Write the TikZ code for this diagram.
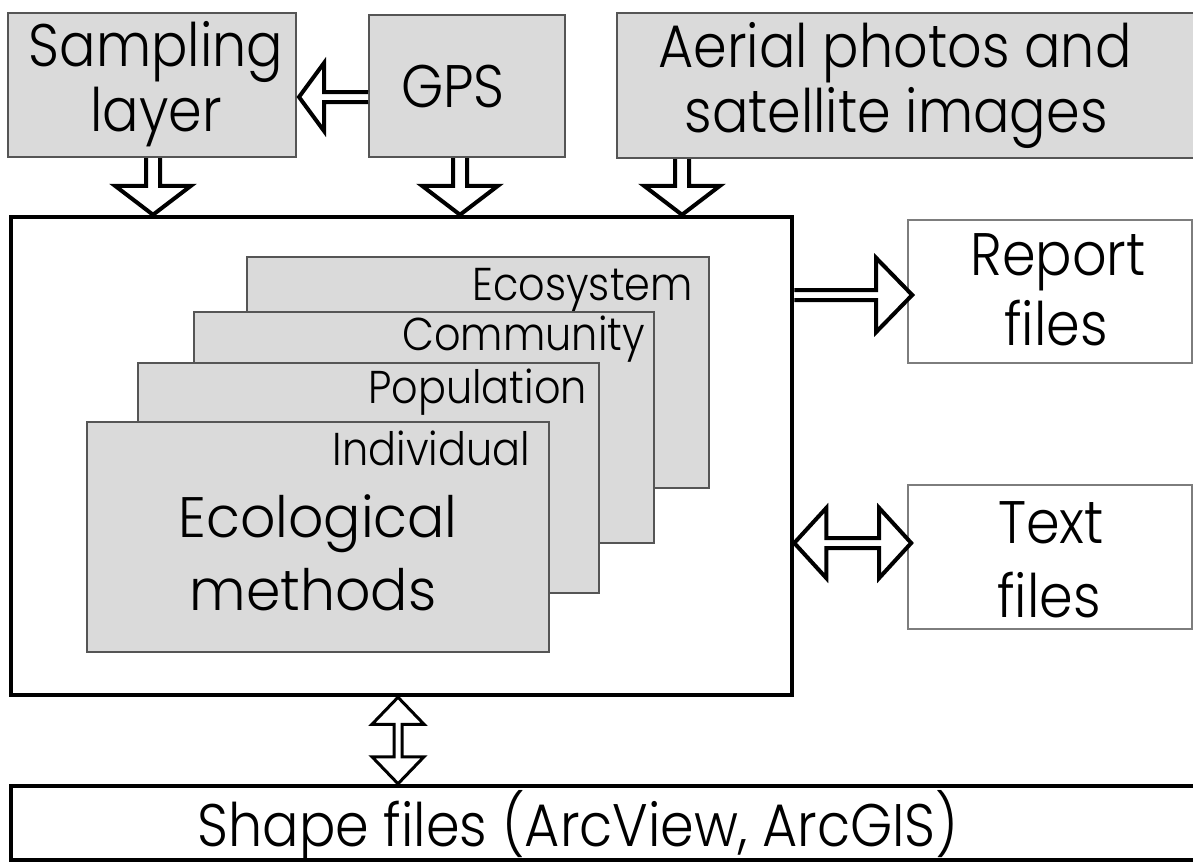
\documentclass[tikz,border=0pt]{standalone}
\usepackage{fontspec}
\setmainfont{Poppins Light}[FakeStretch=0.9]
\newfontfamily\ecofont{Poppins Light}[FakeStretch=0.97]
\usetikzlibrary{calc,fit}
\definecolor{boxgray}{RGB}{218,218,218}
\definecolor{edgegray}{RGB}{85,85,85}
\definecolor{litegray}{RGB}{125,125,125}
\newcommand\blockarrow[6]{%
  \coordinate (ba-A) at (#2);
  \coordinate (ba-B) at (#3);
  \coordinate (ba-P) at ($(ba-B)!#4!(ba-A)$);
  \filldraw[#1] ($(ba-A)!#6!90:(ba-B)$) -- ($(ba-P)!#6!90:(ba-B)$) -- ($(ba-P)!#5!90:(ba-B)$) -- (ba-B) -- ($(ba-P)!#5!-90:(ba-B)$) -- ($(ba-P)!#6!-90:(ba-B)$) -- ($(ba-A)!#6!-90:(ba-B)$);
}
\newcommand\blockarrowboth[6]{%
  \coordinate (ba-A) at (#2);
  \coordinate (ba-B) at (#3);
  \coordinate (ba-P) at ($(ba-B)!#4!(ba-A)$);
  \coordinate (ba-Q) at ($(ba-A)!#4!(ba-B)$);
  \filldraw[#1] (ba-A) -- ($(ba-Q)!#5!90:(ba-B)$) -- ($(ba-Q)!#6!90:(ba-B)$) -- ($(ba-P)!#6!90:(ba-B)$) -- ($(ba-P)!#5!90:(ba-B)$) -- (ba-B) -- ($(ba-P)!#5!-90:(ba-B)$) -- ($(ba-P)!#6!-90:(ba-B)$) -- ($(ba-Q)!#6!-90:(ba-B)$) -- ($(ba-Q)!#5!-90:(ba-B)$) -- cycle;
}
\begin{document}
\begin{tikzpicture}[x=1pt,y=-1pt,
  graybox/.style={draw=edgegray,line width=2pt,fill=boxgray,inner sep=0pt},
  whitebox/.style={draw=litegray,line width=1.6pt,fill=white,inner sep=0pt},
  thickbox/.style={draw=black,line width=4.5pt,inner sep=0pt},
  card/.style={draw=edgegray,line width=1.8pt,fill=boxgray,inner sep=0pt},
  bigtxt/.style={font=\fontsize{60}{65}\selectfont,anchor=base,inner sep=0pt},
  lvltxt/.style={font=\fontsize{46}{50}\selectfont,anchor=base east,inner sep=0pt},
  ecotxt/.style={font=\ecofont\fontsize{57}{60}\selectfont,anchor=base,inner sep=0pt},
  arr/.style={draw=black,fill=white,line width=4pt,line join=miter},
  arrthin/.style={draw=black,fill=white,line width=3pt,line join=miter}]
\useasboundingbox (0,0) rectangle (1193,865);

% top boxes
\node[graybox,fit={(8,13)(296,157)}] (samp) {};
\node[graybox,fit={(369,15)(565,157)}] (gps) {};
\node[graybox,fit={(617,13)(1200,158)}] (aer) {};
\node[bigtxt] (t-samp1) at (156,66) {Sampling};
\node[bigtxt] (t-samp2) at (156,131) {layer};
\node[bigtxt] (t-gps) at (453,107) {GPS};
\node[bigtxt] (t-aer1) at (895,67) {Aerial photos and};
\node[bigtxt] (t-aer2) at (896,132) {satellite images};

% main box
\node[thickbox,fit={(11,217)(792,695)}] (main) {};

% stacked cards
\node[card,fit={(247,257)(709,488)}] (eco) {};
\node[lvltxt] (t-eco) at (693,300) {Ecosystem};
\node[card,fit={(194,312)(654,543)}] (com) {};
\node[lvltxt] (t-com) at (645,350) {Community};
\node[card,fit={(138,363)(599,593)}] (pop) {};
\node[lvltxt] (t-pop) at (587,403) {Population};
\node[card,fit={(87,422)(549,652)}] (ind) {};
\node[lvltxt] (t-ind) at (530,465) {Individual};
\node[ecotxt] (t-em1) at (318,537) {Ecological};
\node[ecotxt] (t-em2) at (313,610) {methods};

% right boxes
\node[whitebox,fit={(908,220)(1192,363)}] (rep) {};
\node[bigtxt] (t-rep1) at (1058,275) {Report};
\node[bigtxt] (t-rep2) at (1056,345) {files};
\node[whitebox,fit={(908,485)(1192,629)}] (txt) {};
\node[bigtxt] (t-txt1) at (1051,543) {Text};
\node[bigtxt] (t-txt2) at (1049,617) {files};

% bottom box
\node[thickbox,fit={(11,786)(1200,860)}] (shp) {};
\node[bigtxt] (t-shp) at (578,846) {Shape files (ArcView, ArcGIS)};

% arrows
\blockarrow{arr}{$(gps.west)+(0,11)$}{$(samp.east)+(2,12)$}{25pt}{34pt}{5pt}
\blockarrow{arr}{$(samp.south west)+(146,0)$}{ba-A |- main.north}{29pt}{38pt}{7pt}
\blockarrow{arr}{$(gps.south west)+(92,0)$}{ba-A |- main.north}{29pt}{38pt}{7pt}
\blockarrow{arr}{$(aer.south west)+(66,0)$}{ba-A |- main.north}{29pt}{38pt}{7pt}
\blockarrow{arr}{$(main.east |- rep.west)+(0,3.5)$}{$(rep.west)+(5,3.5)$}{36pt}{37pt}{5pt}
\blockarrowboth{arr}{$(main.east |- txt.west)+(0,-14)$}{$(txt.west)+(4,-14)$}{32pt}{35pt}{5pt}
\blockarrowboth{arrthin}{$(main.south)+(-3.5,0)$}{ba-A |- shp.north}{27pt}{26pt}{4pt}
\end{tikzpicture}
\end{document}
